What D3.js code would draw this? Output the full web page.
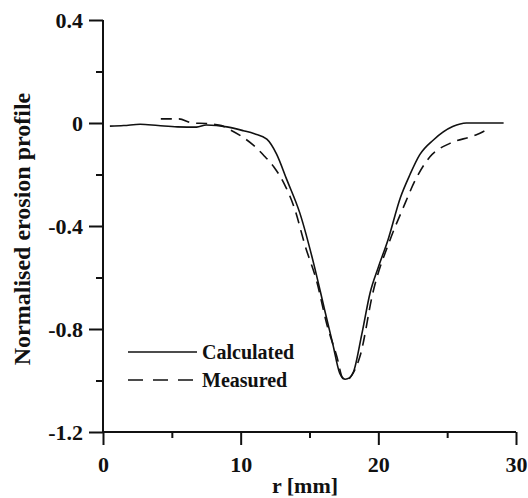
<!DOCTYPE html>
<html>
<head>
<meta charset="utf-8">
<script src="https://cdn.jsdelivr.net/npm/d3@7"></script>
<style>
  body { margin: 0; background: #fff; }
  text { font-family: "Liberation Serif", "Times New Roman", serif; font-weight: bold; fill: #111; }
</style>
</head>
<body>
<svg id="chart" width="528" height="498"></svg>
<script>
// calculated erosion profile
const calcR = [0.5, 1.5, 2.7, 4, 5.4, 6.8, 7.5, 9.0, 10.2, 11.0, 11.9, 12.6, 13.35, 14.3, 15.3, 16.1, 16.7, 17.2, 17.6, 17.9, 18.2, 18.8, 19.4, 20.0, 20.7, 21.6, 22.3, 23.0, 24.0, 25.4, 26.4, 27.5, 29.1];
const calcV = [-0.012, -0.01, -0.005, -0.01, -0.015, -0.016, -0.008, -0.015, -0.03, -0.042, -0.063, -0.12, -0.22, -0.35, -0.545, -0.726, -0.86, -0.972, -0.995, -0.99, -0.966, -0.82, -0.66, -0.56, -0.454, -0.29, -0.2, -0.124, -0.066, -0.014, 0, 0, 0];
// measured
const measR = [4.2, 5.5, 6.5, 7.5, 8.0, 8.6, 9.25, 10.1, 10.9, 11.65, 12.4, 13.2, 13.9, 14.7, 15.5, 16.3, 17.0, 17.4, 17.7, 18.0, 18.7, 19.6, 20.85, 21.8, 22.7, 23.75, 25.2, 26.9, 27.6, 27.8];
const measV = [0.016, 0.016, 0, -0.002, -0.005, -0.01, -0.027, -0.053, -0.085, -0.124, -0.17, -0.24, -0.33, -0.48, -0.61, -0.79, -0.91, -0.99, -1.0, -0.985, -0.9, -0.66, -0.454, -0.33, -0.22, -0.131, -0.079, -0.05, -0.034, -0.027];

const xMajor = [0, 10, 20, 30];
const xMinor = [5, 15, 25];
const yMajor = [0.4, 0, -0.4, -0.8, -1.2];
const yMinor = [0.2, -0.2, -0.6, -1.0];

const svg = d3.select('#chart');
const x = d3.scaleLinear().domain([0, 30]).range([103, 516]);
const y = d3.scaleLinear().domain([-1.2, 0.4]).range([432, 20]);

const fmt = d => d === 0 ? '0' : (d < 0 ? '-' + d3.format('.1f')(-d) : d3.format('.1f')(d));

// y axis
const ya = svg.append('g').attr('transform', 'translate(103,0)');
ya.call(d3.axisLeft(y).tickValues(yMajor).tickSize(14).tickFormat(fmt).tickPadding(6));
const yMin = ya.append('g').call(d3.axisLeft(y).tickValues(yMinor).tickSize(7).tickFormat(''));
yMin.select('.domain').remove();
// x axis
const xa = svg.append('g').attr('transform', 'translate(0,432)');
xa.call(d3.axisBottom(x).tickValues(xMajor).tickSize(13).tickFormat(d3.format('d')).tickPadding(11));
const xMin = xa.append('g').call(d3.axisBottom(x).tickValues(xMinor).tickSize(6).tickFormat(''));
xMin.select('.domain').remove();

ya.select('.domain').attr('d', `M0,${y(0.4)}V${y(-1.2)}`);
xa.select('.domain').attr('d', `M${x(0)},0H${x(30)}`);
svg.selectAll('.domain').attr('stroke', '#111').attr('stroke-width', 2);
svg.selectAll('.tick line').attr('stroke', '#111').attr('stroke-width', 2);
svg.selectAll('.tick text').style('font-size', '22px').attr('fill', '#111');

const line = d3.line().x(d => x(d[0])).y(d => y(d[1])).curve(d3.curveMonotoneX);

svg.append('path')
  .datum(calcR.map((r, i) => [r, calcV[i]]))
  .attr('d', line).attr('fill', 'none').attr('stroke', '#111').attr('stroke-width', 1.6);

svg.append('path')
  .datum(measR.map((r, i) => [r, measV[i]]))
  .attr('d', line).attr('fill', 'none').attr('stroke', '#111').attr('stroke-width', 1.6)
  .attr('stroke-dasharray', '11,7');

// legend
const lg = svg.append('g');
lg.append('line').attr('x1', 128).attr('x2', 197).attr('y1', 352).attr('y2', 352)
  .attr('stroke', '#111').attr('stroke-width', 1.6);
lg.append('line').attr('x1', 128).attr('x2', 197).attr('y1', 380).attr('y2', 380)
  .attr('stroke', '#111').attr('stroke-width', 1.6).attr('stroke-dasharray', '15,10');
lg.append('text').attr('x', 202).attr('y', 359).style('font-size', '20px').text('Calculated');
lg.append('text').attr('x', 202).attr('y', 387).style('font-size', '20px').text('Measured');

// axis titles
svg.append('text').attr('x', 305).attr('y', 493).attr('text-anchor', 'middle')
  .style('font-size', '22px').text('r [mm]');
svg.append('text').attr('transform', 'translate(30,229) rotate(-90)').attr('text-anchor', 'middle')
  .style('font-size', '24px').text('Normalised erosion profile');
</script>
</body>
</html>
